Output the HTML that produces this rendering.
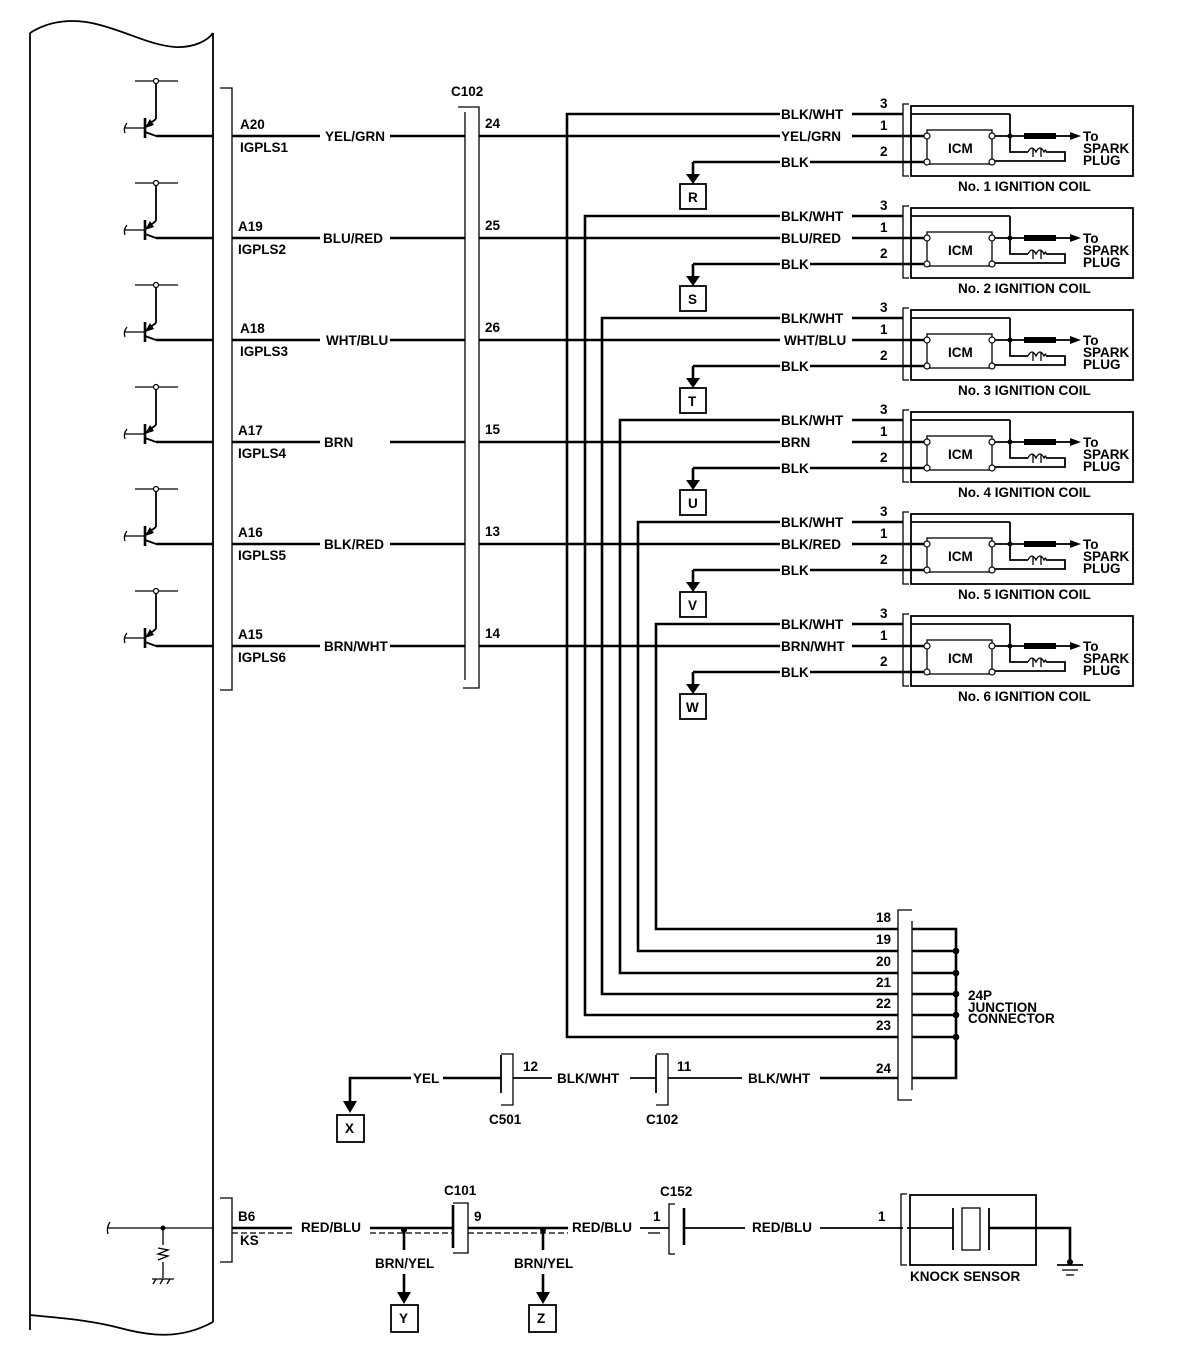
<!DOCTYPE html>
<html><head><meta charset="utf-8"><style>
html,body{margin:0;padding:0;background:#fff}
svg{display:block}
text{font-family:"Liberation Sans",Arial,sans-serif;font-weight:bold;font-size:13.5px;fill:#000}
.t{stroke:#000;stroke-width:2.6;fill:none}
.n{stroke:#000;stroke-width:1.3;fill:none}
.m{stroke:#000;stroke-width:1.8;fill:none}
</style></head><body>
<svg width="1184" height="1358" viewBox="0 0 1184 1358" xmlns="http://www.w3.org/2000/svg">
<defs>
<g id="tr">
 <line class="n" x1="135" y1="-55" x2="178" y2="-55"/>
 <line class="m" x1="156" y1="-53" x2="156" y2="-17"/>
 <circle cx="156" cy="-55" r="2.5" fill="#fff" stroke="#000" stroke-width="1.2"/>
 <line class="t" x1="145" y1="-18" x2="145" y2="2"/>
 <line class="m" x1="145" y1="-9" x2="156" y2="-17"/>
 <polygon points="145,-8 150,-17 154,-11"/>
 <line class="m" x1="145" y1="-4" x2="156" y2="0"/>
 <line class="n" x1="124" y1="-8" x2="145" y2="-8"/>
 <path class="n" d="M125,-3 Q123,-8 127,-13"/>
 <line class="t" x1="156" y1="0" x2="213" y2="0"/>
</g>
<g id="coil">
 <rect x="911" y="-30" width="222" height="70" class="m"/>
 <path class="n" d="M909,-32 H903 V40 H909"/>
 <rect x="927" y="-6" width="65" height="34" class="n"/>
 <line class="m" x1="911" y1="-22" x2="1010" y2="-22"/>
 <line class="m" x1="1010" y1="-22" x2="1010" y2="0"/>
 <line class="t" x1="903" y1="0" x2="927" y2="0"/>
 <line class="t" x1="903" y1="26" x2="927" y2="26"/>
 <line class="m" x1="992" y1="0" x2="1025" y2="0"/>
 <rect x="1024" y="-3" width="32" height="6"/>
 <line class="m" x1="1056" y1="0" x2="1072" y2="0"/>
 <polygon points="1070,-4 1081,0 1070,4"/>
 <circle cx="1010" cy="0" r="2.5"/>
 <path class="m" d="M1010,0 V16 H1028 M1046,16 H1065 V25 H992"/>
 <path class="n" d="M1028,16 Q1032,8 1036,16 Q1040,8 1044,16 Q1046,12 1046,16 M1033,12 V21 M1041,12 V21"/>
 <circle cx="927" cy="0" r="3" fill="#fff" stroke="#000" stroke-width="1.2"/>
 <circle cx="927" cy="26" r="3" fill="#fff" stroke="#000" stroke-width="1.2"/>
 <circle cx="992" cy="0" r="3" fill="#fff" stroke="#000" stroke-width="1.2"/>
 <circle cx="992" cy="26" r="3" fill="#fff" stroke="#000" stroke-width="1.2"/>
 <line class="t" x1="810" y1="26" x2="903" y2="26"/>
 <line class="t" x1="693" y1="26" x2="780" y2="26"/>
 <line class="t" x1="693" y1="26" x2="693" y2="40"/>
 <polygon points="686,38 700,38 693,48"/>
 <rect x="680" y="48" width="26" height="25" class="m"/>
 <line class="t" x1="852" y1="-22" x2="903" y2="-22"/>
 <line class="t" x1="479" y1="0" x2="780" y2="0"/>
 <line class="t" x1="852" y1="0" x2="903" y2="0"/>
 <line class="t" x1="232" y1="0" x2="320" y2="0"/>
 <line class="t" x1="390" y1="0" x2="465" y2="0"/>
</g>
</defs>

<path class="m" d="M30,33 C50,20 75,18 100,25 C130,33 150,45 175,47 C195,48 208,40 213,33"/>
<line class="m" x1="30" y1="33" x2="30" y2="1330"/>
<line class="m" x1="213" y1="33" x2="213" y2="1322"/>
<path class="m" d="M30,1315 C60,1318 90,1320 120,1328 C150,1336 180,1340 213,1322"/>

<path class="n" d="M220,88 H232 V690 H220"/>
<text x="451" y="96">C102</text>
<path class="n" d="M458,107 H479 V688 H463"/>
<line class="n" x1="465" y1="112" x2="465" y2="680"/>

<g transform="translate(0,136)"><use href="#tr"/><use href="#coil"/>
<text x="240" y="-7">A20</text><text x="240" y="16">IGPLS1</text><text x="325" y="5">YEL/GRN</text><text x="485" y="-8">24</text>
<text x="781" y="-17">BLK/WHT</text><text x="781" y="5">YEL/GRN</text><text x="781" y="31">BLK</text>
<text x="880" y="-28">3</text><text x="880" y="-6">1</text><text x="880" y="20">2</text>
<text x="948" y="17">ICM</text><text x="1083" y="5">To</text><text x="1083" y="17">SPARK</text><text x="1083" y="29">PLUG</text>
<text x="958" y="55">No. 1 IGNITION COIL</text><text x="688" y="66">R</text></g>

<g transform="translate(0,238)"><use href="#tr"/><use href="#coil"/>
<text x="238" y="-7">A19</text><text x="238" y="16">IGPLS2</text><text x="323" y="5">BLU/RED</text><text x="485" y="-8">25</text>
<text x="781" y="-17">BLK/WHT</text><text x="781" y="5">BLU/RED</text><text x="781" y="31">BLK</text>
<text x="880" y="-28">3</text><text x="880" y="-6">1</text><text x="880" y="20">2</text>
<text x="948" y="17">ICM</text><text x="1083" y="5">To</text><text x="1083" y="17">SPARK</text><text x="1083" y="29">PLUG</text>
<text x="958" y="55">No. 2 IGNITION COIL</text><text x="688" y="66">S</text></g>

<g transform="translate(0,340)"><use href="#tr"/><use href="#coil"/>
<text x="240" y="-7">A18</text><text x="240" y="16">IGPLS3</text><text x="326" y="5">WHT/BLU</text><text x="485" y="-8">26</text>
<text x="781" y="-17">BLK/WHT</text><text x="784" y="5">WHT/BLU</text><text x="781" y="31">BLK</text>
<text x="880" y="-28">3</text><text x="880" y="-6">1</text><text x="880" y="20">2</text>
<text x="948" y="17">ICM</text><text x="1083" y="5">To</text><text x="1083" y="17">SPARK</text><text x="1083" y="29">PLUG</text>
<text x="958" y="55">No. 3 IGNITION COIL</text><text x="688" y="66">T</text></g>

<g transform="translate(0,442)"><use href="#tr"/><use href="#coil"/>
<text x="238" y="-7">A17</text><text x="238" y="16">IGPLS4</text><text x="324" y="5">BRN</text><text x="485" y="-8">15</text>
<text x="781" y="-17">BLK/WHT</text><text x="781" y="5">BRN</text><text x="781" y="31">BLK</text>
<text x="880" y="-28">3</text><text x="880" y="-6">1</text><text x="880" y="20">2</text>
<text x="948" y="17">ICM</text><text x="1083" y="5">To</text><text x="1083" y="17">SPARK</text><text x="1083" y="29">PLUG</text>
<text x="958" y="55">No. 4 IGNITION COIL</text><text x="688" y="66">U</text></g>

<g transform="translate(0,544)"><use href="#tr"/><use href="#coil"/>
<text x="238" y="-7">A16</text><text x="238" y="16">IGPLS5</text><text x="324" y="5">BLK/RED</text><text x="485" y="-8">13</text>
<text x="781" y="-17">BLK/WHT</text><text x="781" y="5">BLK/RED</text><text x="781" y="31">BLK</text>
<text x="880" y="-28">3</text><text x="880" y="-6">1</text><text x="880" y="20">2</text>
<text x="948" y="17">ICM</text><text x="1083" y="5">To</text><text x="1083" y="17">SPARK</text><text x="1083" y="29">PLUG</text>
<text x="958" y="55">No. 5 IGNITION COIL</text><text x="688" y="66">V</text></g>

<g transform="translate(0,646)"><use href="#tr"/><use href="#coil"/>
<text x="238" y="-7">A15</text><text x="238" y="16">IGPLS6</text><text x="324" y="5">BRN/WHT</text><text x="485" y="-8">14</text>
<text x="781" y="-17">BLK/WHT</text><text x="781" y="5">BRN/WHT</text><text x="781" y="31">BLK</text>
<text x="880" y="-28">3</text><text x="880" y="-6">1</text><text x="880" y="20">2</text>
<text x="948" y="17">ICM</text><text x="1083" y="5">To</text><text x="1083" y="17">SPARK</text><text x="1083" y="29">PLUG</text>
<text x="958" y="55">No. 6 IGNITION COIL</text><text x="686" y="66">W</text></g>

<path class="t" d="M780,114 H567 V1037 H898"/>
<path class="t" d="M780,216 H585 V1015 H898"/>
<path class="t" d="M780,318 H602 V994 H898"/>
<path class="t" d="M780,420 H620 V973 H898"/>
<path class="t" d="M780,522 H638 V951 H898"/>
<path class="t" d="M780,624 H656 V929 H898"/>

<path class="n" d="M912,910 H898 V1100 H912"/>
<line class="n" x1="912" y1="921" x2="912" y2="1090"/>
<path class="t" d="M912,929 H956 V1078 H912"/>
<line class="t" x1="912" y1="951" x2="956" y2="951"/>
<line class="t" x1="912" y1="973" x2="956" y2="973"/>
<line class="t" x1="912" y1="994" x2="956" y2="994"/>
<line class="t" x1="912" y1="1015" x2="956" y2="1015"/>
<line class="t" x1="912" y1="1037" x2="956" y2="1037"/>
<circle cx="956" cy="951" r="3.3"/><circle cx="956" cy="973" r="3.3"/><circle cx="956" cy="994" r="3.3"/><circle cx="956" cy="1015" r="3.3"/><circle cx="956" cy="1037" r="3.3"/>
<text x="876" y="922">18</text><text x="876" y="944">19</text><text x="876" y="966">20</text><text x="876" y="987">21</text><text x="876" y="1008">22</text><text x="876" y="1030">23</text><text x="876" y="1073">24</text>
<text x="968" y="1000">24P</text><text x="968" y="1012">JUNCTION</text><text x="968" y="1023">CONNECTOR</text>

<path class="t" d="M411,1078 H350 V1102"/>
<polygon points="343,1101 357,1101 350,1113"/>
<rect x="337" y="1115" width="27" height="27" class="m"/>
<text x="345" y="1133">X</text>
<text x="413" y="1083">YEL</text>
<line class="t" x1="443" y1="1078" x2="501" y2="1078"/>
<line class="m" x1="501" y1="1055" x2="501" y2="1093"/>
<path class="n" d="M501,1054 H513 V1105 H501"/>
<text x="523" y="1071">12</text><text x="489" y="1124">C501</text>
<line class="m" x1="513" y1="1078" x2="552" y2="1078"/>
<text x="557" y="1083">BLK/WHT</text>
<line class="m" x1="630" y1="1078" x2="656" y2="1078"/>
<line class="m" x1="656" y1="1055" x2="656" y2="1093"/>
<path class="n" d="M656,1054 H668 V1105 H656"/>
<text x="677" y="1071">11</text><text x="646" y="1124">C102</text>
<line class="m" x1="668" y1="1078" x2="742" y2="1078"/>
<text x="748" y="1083">BLK/WHT</text>
<line class="t" x1="820" y1="1078" x2="898" y2="1078"/>

<line class="n" x1="107" y1="1228" x2="213" y2="1228"/>
<path class="n" d="M108,1234 Q106,1228 110,1222"/>
<circle cx="163" cy="1228" r="2.5"/>
<path class="n" d="M163,1228 V1245 M158,1248 L168,1250 L158,1254 L168,1256 L158,1260 M163,1262 V1278"/>
<line class="n" x1="152" y1="1279" x2="174" y2="1279"/>
<path class="n" d="M156,1279 L153,1284 M163,1279 L160,1284 M170,1279 L167,1284"/>
<path class="n" d="M220,1198 H232 V1262 H220"/>
<text x="238" y="1221">B6</text><text x="240" y="1245">KS</text>
<line class="t" x1="232" y1="1228" x2="292" y2="1228"/>
<line class="n" x1="232" y1="1233" x2="292" y2="1233" stroke-dasharray="6,3"/>
<text x="301" y="1232">RED/BLU</text>
<line class="t" x1="370" y1="1228" x2="453" y2="1228"/>
<line class="n" x1="370" y1="1233" x2="453" y2="1233" stroke-dasharray="6,3"/>
<circle cx="404" cy="1230" r="3"/>
<line class="t" x1="404" y1="1230" x2="404" y2="1250"/>
<text x="375" y="1268">BRN/YEL</text>
<line class="t" x1="404" y1="1274" x2="404" y2="1293"/>
<polygon points="397,1292 411,1292 404,1304"/>
<rect x="391" y="1305" width="27" height="27" class="m"/>
<text x="399" y="1323">Y</text>
<line class="t" x1="453" y1="1205" x2="453" y2="1248"/>
<path class="n" d="M453,1203 H468 V1253 H453"/>
<text x="444" y="1195">C101</text><text x="474" y="1221">9</text>
<line class="t" x1="468" y1="1228" x2="568" y2="1228"/>
<line class="n" x1="468" y1="1233" x2="568" y2="1233" stroke-dasharray="6,3"/>
<circle cx="543" cy="1230" r="3"/>
<line class="t" x1="543" y1="1230" x2="543" y2="1250"/>
<text x="514" y="1268">BRN/YEL</text>
<line class="t" x1="543" y1="1274" x2="543" y2="1293"/>
<polygon points="536,1292 550,1292 543,1304"/>
<rect x="529" y="1305" width="27" height="27" class="m"/>
<text x="537" y="1323">Z</text>
<text x="572" y="1232">RED/BLU</text>
<line class="m" x1="640" y1="1228" x2="669" y2="1228"/>
<line class="n" x1="648" y1="1233" x2="660" y2="1233"/>
<text x="653" y="1221">1</text>
<path class="n" d="M675,1204 H669 V1254 H675"/>
<line class="t" x1="684" y1="1208" x2="684" y2="1245"/>
<text x="660" y="1196">C152</text>
<line class="m" x1="684" y1="1228" x2="745" y2="1228"/>
<text x="752" y="1232">RED/BLU</text>
<line class="m" x1="820" y1="1228" x2="903" y2="1228"/>
<text x="878" y="1221">1</text>
<path class="n" d="M907,1194 H901 V1265 H907"/>
<rect x="910" y="1195" width="126" height="70" class="m"/>
<line class="m" x1="907" y1="1228" x2="953" y2="1228"/>
<line class="m" x1="953" y1="1208" x2="953" y2="1250"/>
<rect x="962" y="1208" width="18" height="42" class="n"/>
<line class="m" x1="989" y1="1208" x2="989" y2="1250"/>
<path class="t" d="M989,1228 H1070 V1262"/>
<circle cx="1070" cy="1262" r="3"/>
<line class="m" x1="1057" y1="1265" x2="1083" y2="1265"/>
<line class="n" x1="1062" y1="1270" x2="1078" y2="1270"/>
<line class="n" x1="1066" y1="1275" x2="1074" y2="1275"/>
<text x="910" y="1281">KNOCK SENSOR</text>
</svg>
</body></html>
